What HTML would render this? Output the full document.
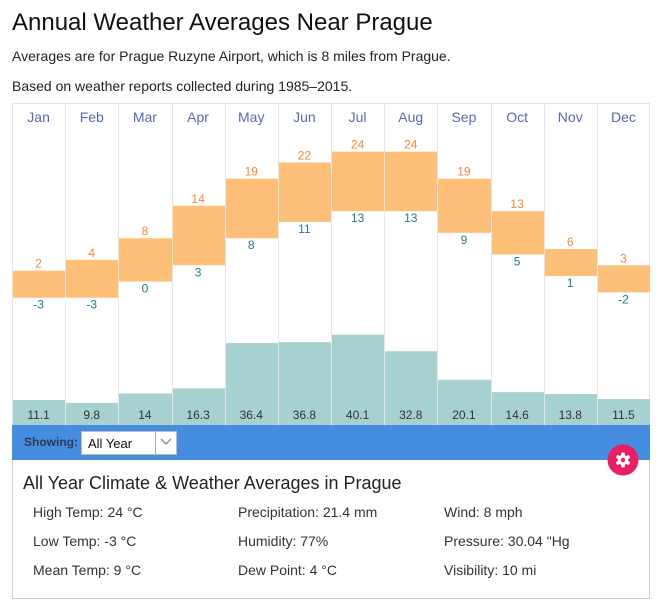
<!DOCTYPE html>
<html><head><meta charset="utf-8"><style>
*{margin:0;padding:0;box-sizing:border-box}
body{width:661px;height:606px;background:#fff;font-family:"Liberation Sans",Arial,sans-serif;position:relative;overflow:hidden;color:#222}
.a{position:absolute;white-space:nowrap}
h1{position:absolute;left:12px;top:8px;font-size:24px;font-weight:normal;color:#111;line-height:30px}
.sub{position:absolute;left:12px;font-size:14px;color:#222;line-height:18px}
.c{position:absolute;text-align:center;width:53px;line-height:14px}
</style></head><body>
<h1>Annual Weather Averages Near Prague</h1>
<div class="sub" style="top:47px">Averages are for Prague Ruzyne Airport, which is 8 miles from Prague.</div>
<div class="sub" style="top:77px">Based on weather reports collected during 1985–2015.</div>

<svg class="a" style="left:0;top:0" width="661" height="606" xmlns="http://www.w3.org/2000/svg" font-family="Liberation Sans, Arial, sans-serif">
<g id="grid" stroke="#e6e6e6" stroke-width="1"></g>
<g id="bars"></g>
<g id="txt"></g>
</svg>

<div class="a" style="left:12px;top:425px;width:638px;height:35px;background:#468de0"></div>
<div class="a" style="left:24px;top:435px;font-size:12px;font-weight:bold;color:#2d3b55;line-height:14px">Showing:</div>
<div class="a" style="left:81px;top:431px;width:96px;height:24px;background:#fff;border:1px solid #bbb"></div>
<div class="a" style="left:88px;top:436px;font-size:13px;color:#111;line-height:15px">All Year</div>
<div class="a" style="left:155px;top:432px;width:1px;height:22px;background:#aaa"></div>
<svg class="a" style="left:160px;top:437px" width="12" height="10"><polyline points="1,2 6,7 11,2" fill="none" stroke="#888" stroke-width="1.3"/></svg>

<div class="a" style="left:12px;top:460px;width:638px;height:139px;border:1px solid #ccc;border-top:none"></div>
<div class="a" style="left:23px;top:472px;font-size:18px;color:#222;line-height:22px">All Year Climate &amp; Weather Averages in Prague</div>
<div class="a" style="left:33px;top:504px;font-size:14px;color:#333;line-height:16px">High Temp: 24 °C</div>
<div class="a" style="left:33px;top:533px;font-size:14px;color:#333;line-height:16px">Low Temp: -3 °C</div>
<div class="a" style="left:33px;top:562px;font-size:14px;color:#333;line-height:16px">Mean Temp: 9 °C</div>
<div class="a" style="left:238px;top:504px;font-size:14px;color:#333;line-height:16px">Precipitation: 21.4 mm</div>
<div class="a" style="left:238px;top:533px;font-size:14px;color:#333;line-height:16px">Humidity: 77%</div>
<div class="a" style="left:238px;top:562px;font-size:14px;color:#333;line-height:16px">Dew Point: 4 °C</div>
<div class="a" style="left:444px;top:504px;font-size:14px;color:#333;line-height:16px">Wind: 8 mph</div>
<div class="a" style="left:444px;top:533px;font-size:14px;color:#333;line-height:16px">Pressure: 30.04 "Hg</div>
<div class="a" style="left:444px;top:562px;font-size:14px;color:#333;line-height:16px">Visibility: 10 mi</div>

<svg class="a" style="left:607px;top:444px" width="32" height="32">
<circle cx="16" cy="16" r="15.5" fill="#e91e63"/>
<g fill="#fff" transform="translate(16,16)">
<circle r="5.2"/>
<rect x="-1.8" y="-7.5" width="3.6" height="15" rx="1"/>
<rect x="-1.8" y="-7.5" width="3.6" height="15" rx="1" transform="rotate(60)"/>
<rect x="-1.8" y="-7.5" width="3.6" height="15" rx="1" transform="rotate(120)"/>
<circle r="2.2" fill="#e91e63"/>
</g>
</svg>

<script>
var m=["Jan","Feb","Mar","Apr","May","Jun","Jul","Aug","Sep","Oct","Nov","Dec"];
var hi=[2,4,8,14,19,22,24,24,19,13,6,3];
var lo=[-3,-3,0,3,8,11,13,13,9,5,1,-2];
var pr=[11.1,9.8,14,16.3,36.4,36.8,40.1,32.8,20.1,14.6,13.8,11.5];
var ns="http://www.w3.org/2000/svg";
function el(p,t,a,tx){var e=document.createElementNS(ns,t);for(var k in a)e.setAttribute(k,a[k]);if(tx!==undefined)e.textContent=tx;document.getElementById(p).appendChild(e);}
var W=638/12;
function y(t){return 281.5-5.41*t;}
for(var i=0;i<12;i++){
 var x0=12+i*W,x1=12+(i+1)*W,cx=(x0+x1)/2;
 var xl=Math.round(x0)+0.5;
 el("grid","line",{x1:xl,y1:103,x2:xl,y2:425});
 el("bars","rect",{x:Math.round(x0)+1,y:y(hi[i]),width:Math.round(x1)-Math.round(x0)-1,height:y(lo[i])-y(hi[i]),fill:"#fec078"});
 var h=pr[i]*2.25;
 el("bars","rect",{x:Math.round(x0)+1,y:425-h,width:Math.round(x1)-Math.round(x0)-1,height:h,fill:"#a7d0d0"});
 el("txt","text",{x:cx,y:122,"text-anchor":"middle","font-size":"14",fill:"#5a68ac"},m[i]);
 el("txt","text",{x:cx,y:y(hi[i])-3,"text-anchor":"middle","font-size":"12",fill:"#f0883a"},hi[i]);
 el("txt","text",{x:cx,y:y(lo[i])+11,"text-anchor":"middle","font-size":"12",fill:"#227a8a"},lo[i]);
 el("txt","text",{x:cx,y:419,"text-anchor":"middle","font-size":"12",fill:"#333"},pr[i]);
}
el("grid","line",{x1:649.5,y1:103,x2:649.5,y2:425});
el("grid","line",{x1:12,y1:103.5,x2:650,y2:103.5});
</script>
</body></html>
